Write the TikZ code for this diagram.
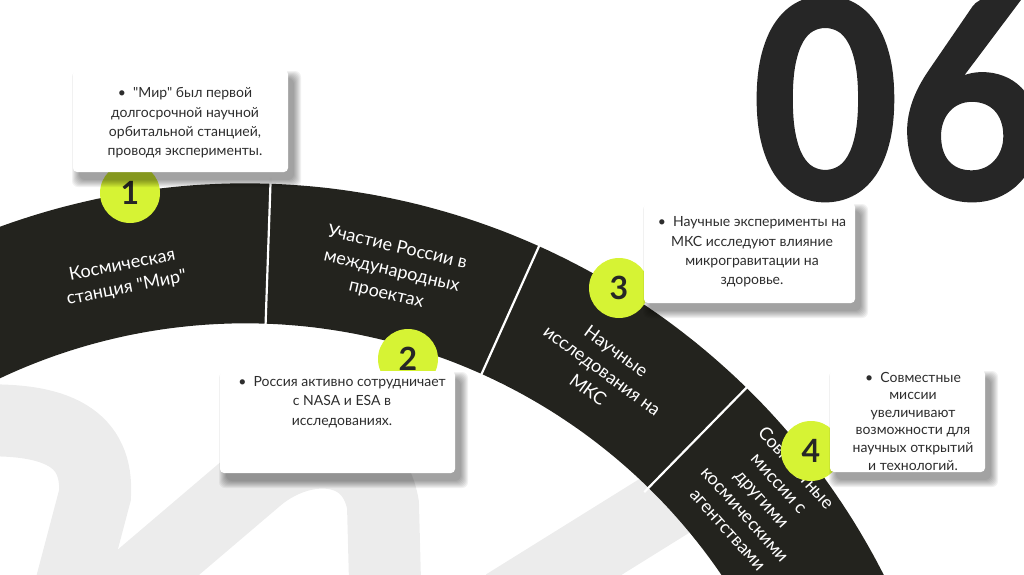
\documentclass[tikz,border=0pt]{standalone}
\usepackage{fontspec}
\setmainfont{Lato}
\newfontfamily\bignum{Lato}[BoldFeatures={FakeBold=1.6}]
\usetikzlibrary{calc}
\definecolor{bandc}{RGB}{35,35,30}
\definecolor{limec}{RGB}{214,243,52}
\definecolor{bgg}{RGB}{236,236,236}
\definecolor{txtc}{RGB}{45,45,45}
\definecolor{numc}{RGB}{38,38,38}
\newcommand\qq{\textquotedbl}
\newcommand\infobox[4]{%
  \foreach \k in {0,1,...,7}{%
    \fill[black,opacity=0.055,rounded corners=3pt] (#1+6-\k,#2+8-\k) rectangle (#3+6+\k,#4+8+\k);}%
  \fill[white,rounded corners=2pt] (#1,#2) rectangle (#3,#4);}
\begin{document}
\begin{tikzpicture}[x=0.5pt,y=-0.5pt,
  bandtext/.style={align=center,text=white,inner sep=0pt,font=\fontsize{9}{11.5}\selectfont},
  boxtext/.style={align=center,text=txtc,inner sep=0pt,font=\fontsize{7}{9.7}\selectfont},
  numcirc/.style={circle,fill=limec,minimum size=30pt,inner sep=0pt,text=numc,font=\bfseries\fontsize{16}{16}\selectfont},
  bgstroke/.style={draw=bgg,line width=36pt},
  divider/.style={draw=white,line width=1.1pt}]
\useasboundingbox (0,0) rectangle (1024,574);
\coordinate (C) at (245.5,899.3);
\begin{scope}
\clip (0,0) rectangle (1024,574);
% light background shapes
\path[bgstroke] (-30,421) .. controls (60,416) and (98,440) .. (95,495) -- (62,620);
\path[bgstroke] (100,612) -- (255,480) .. controls (300,440) and (372,440) .. (383,505) -- (386,620);
\path[bgstroke] (505,605) -- (730,465);
% big number
\node[anchor=base west,inner sep=0pt,text=numc,xscale=0.92,transform shape,font=\bignum\bfseries\fontsize{137}{137}\selectfont] (big) at (752,198) {06};
% band
\fill[bandc] plot[domain=135:10,samples=160] ({245.5+716*cos(\x)},{899.3-716*sin(\x)})
  -- plot[domain=10:135,samples=160] ({245.5+576*cos(\x)},{899.3-576*sin(\x)}) -- cycle;
\path[divider] ($(C)+(-88:570)$) -- ($(C)+(-88:722)$);
\path[divider] ($(C)+(-65.8:570)$) -- ($(C)+(-65.8:722)$);
\path[divider] ($(C)+(-45.6:570)$) -- ($(C)+(-45.6:722)$);
% segment labels
\node[bandtext,rotate=11] (s1) at ($(C)+(-101:634)$) {Космическая\\станция \qq Мир\qq};
\node[bandtext,rotate=-13,font=\fontsize{9}{12}\selectfont] (s2) at ($(C)+(-76.9:645)$) {Участие России в\\международных\\проектах};
\node[bandtext,rotate=-36,font=\fontsize{9}{12}\selectfont] (s3) at ($(C)+(-56:638)$) {Научные\\исследования на\\МКС};
\node[bandtext,rotate=-48] (s4) at ($(C)+(-37.8:654)$) {Совместные\\миссии с\\другими\\космическими\\агентствами};
\end{scope}
% number circles
\node[numcirc] (n1) at (130,193) {1};
\node[numcirc] (n2) at (408,359) {2};
\node[numcirc] (n3) at (619,288) {3};
\node[numcirc] (n4) at (811,451) {4};
% info boxes
\infobox{73}{70}{288}{172}
\infobox{220}{371}{455}{473}
\infobox{644}{203}{855}{303}
\infobox{830}{370}{985}{472}
\node[boxtext] (t1) at (185,123) {•\ \ \qq Мир\qq{} был первой\\долгосрочной научной\\орбитальной станцией,\\проводя эксперименты.};
\node[boxtext] (t2) at (342,402) {•\ \ Россия активно сотрудничает\\с NASA и ESA в\\исследованиях.};
\node[boxtext] (t3) at (752,252) {•\ \ Научные эксперименты на\\МКС исследуют влияние\\микрогравитации на\\здоровье.};
\node[boxtext,font=\fontsize{7}{8.8}\selectfont] (t4) at (913,421) {•\ \ Совместные\\миссии\\увеличивают\\возможности для\\научных открытий\\и технологий.};
\end{tikzpicture}
\end{document}
